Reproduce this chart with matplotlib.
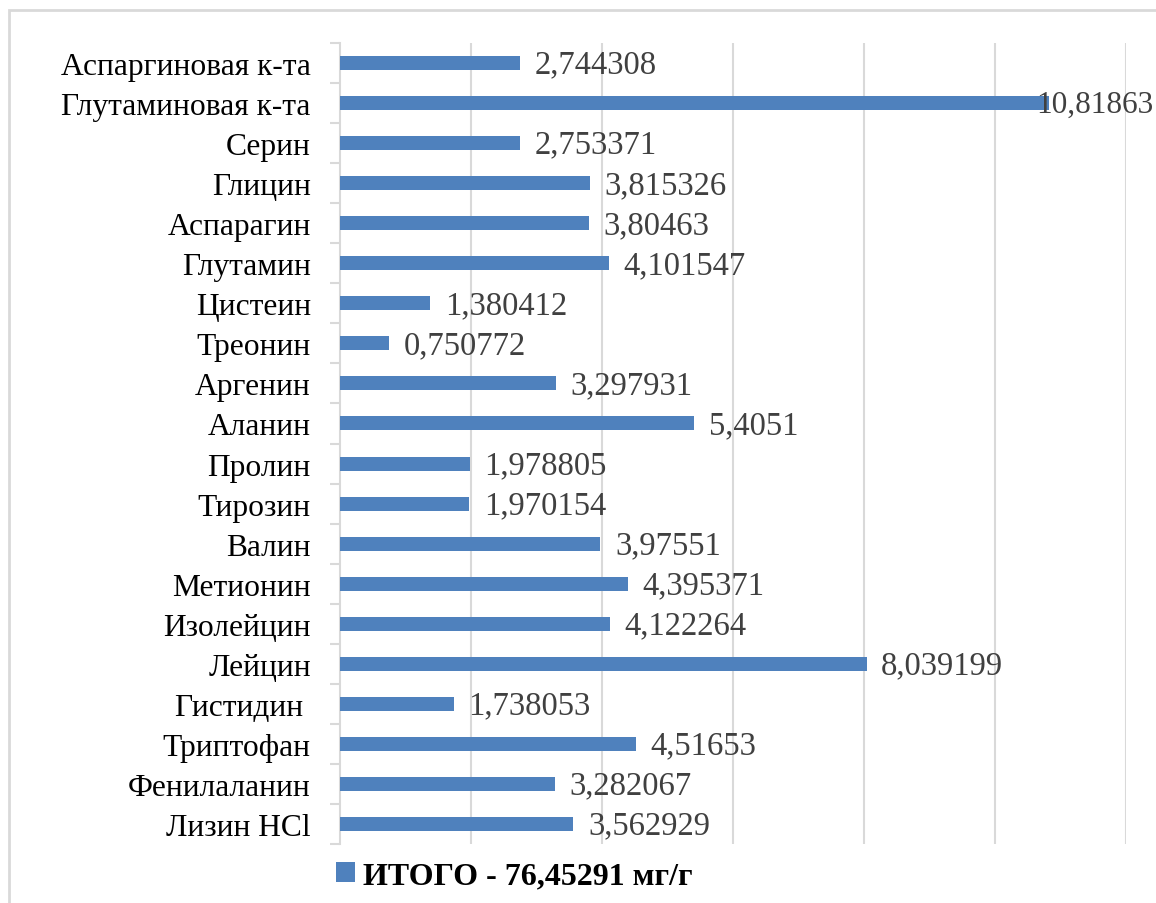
import matplotlib

matplotlib.use("Agg")
import matplotlib.pyplot as plt
from matplotlib.patches import Rectangle

plt.rcParams["font.family"] = ["Liberation Serif", "DejaVu Serif"]

categories = [
    "Аспаргиновая к-та",
    "Глутаминовая к-та",
    "Серин",
    "Глицин",
    "Аспарагин",
    "Глутамин",
    "Цистеин",
    "Треонин",
    "Аргенин",
    "Аланин",
    "Пролин",
    "Тирозин",
    "Валин",
    "Метионин",
    "Изолейцин",
    "Лейцин",
    "Гистидин ",
    "Триптофан",
    "Фенилаланин",
    "Лизин HCl",
]
values = [
    2.744308, 10.81863, 2.753371, 3.815326, 3.80463, 4.101547, 1.380412,
    0.750772, 3.297931, 5.4051, 1.978805, 1.970154, 3.97551, 4.395371,
    4.122264, 8.039199, 1.738053, 4.51653, 3.282067, 3.562929,
]
value_labels = [
    "2,744308", "10,81863", "2,753371", "3,815326", "3,80463", "4,101547",
    "1,380412", "0,750772", "3,297931", "5,4051", "1,978805", "1,970154",
    "3,97551", "4,395371", "4,122264", "8,039199", "1,738053", "4,51653",
    "3,282067", "3,562929",
]
legend_label = "ИТОГО - 76,45291 мг/г"
x_max = 12
x_step = 2

BAR_COLOR = "#4F81BD"
GRID_COLOR = "#D9D9D9"

fig = plt.figure(figsize=(11.56, 9.04), dpi=100)
fig.patch.set_facecolor("white")

# outer chart frame, cut off at the right and bottom like the screenshot
frame = Rectangle(
    (9 / 1156, -0.05), 1.2, 1 - 11 / 904 + 0.05,
    transform=fig.transFigure, fill=False, edgecolor=GRID_COLOR, linewidth=2.0,
)
fig.patches.append(frame)

ax = fig.add_axes([340 / 1156, 1 - 845 / 904, (1126 - 340) / 1156, (845 - 44) / 904])

positions = list(range(len(categories)))
bars = ax.barh(positions, values, height=0.35, color=BAR_COLOR, label=legend_label, zorder=3)

ax.set_xlim(0, x_max)
ax.set_ylim(len(categories) - 0.5, -0.5)
ax.set_xticks(range(x_step, x_max + 1, x_step))
ax.xaxis.grid(True, color=GRID_COLOR, linewidth=1.5, zorder=0)
ax.tick_params(axis="x", length=0, labelbottom=False)

ax.set_yticks(positions)
ax.set_yticklabels(categories, fontsize=22.7, color="black")
ax.set_yticks([p + 0.5 for p in positions] + [-0.5], minor=True)
ax.tick_params(axis="y", which="major", length=0, pad=21)
ax.tick_params(axis="y", which="minor", length=7, width=1.5, color=GRID_COLOR)

for side in ["top", "right", "bottom"]:
    ax.spines[side].set_visible(False)
ax.spines["left"].set_color(GRID_COLOR)
ax.spines["left"].set_linewidth(1.5)

for bar, value, text in zip(bars, values, value_labels):
    # the longest bar has no room left, its label sits on the bar end
    overflow = value > x_max - 2
    ax.annotate(
        text,
        xy=(value, bar.get_y() + bar.get_height() / 2),
        xytext=(-9 if overflow else 10.5, -1),
        textcoords="offset points",
        va="center",
        ha="left",
        fontsize=22.5 if overflow else 23.5,
        color="#404040",
        zorder=4,
    )

fig.legend(
    handles=[bars],
    labels=[legend_label],
    loc="center left",
    bbox_to_anchor=(336 / 1156, 1 - 877 / 904),
    frameon=False,
    borderpad=0,
    borderaxespad=0,
    handlelength=0.6,
    handleheight=0.6,
    handletextpad=0.25,
    prop={"size": 23, "weight": "bold"},
)

fig.savefig("out.png", dpi=100, facecolor="white")
